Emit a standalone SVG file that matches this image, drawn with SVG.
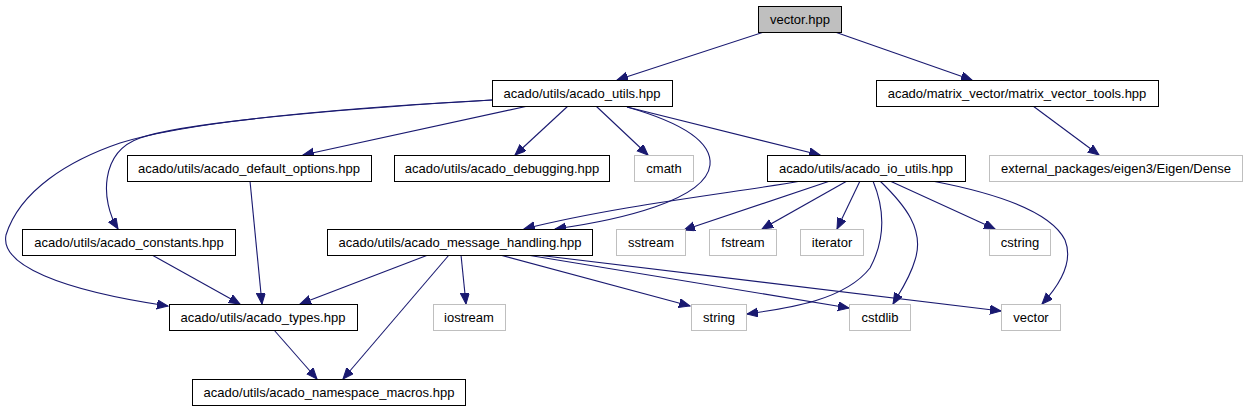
<svg xmlns="http://www.w3.org/2000/svg" width="1248" height="411" viewBox="0 0 1248 411">
<style>
.n rect{fill:#ffffff;stroke:#000000;stroke-width:1}
.g rect{fill:#ffffff;stroke:#bfbfbf;stroke-width:1}
.n text,.g text{font-family:"Liberation Sans",Arial,sans-serif;font-size:13px;fill:#000000;text-anchor:middle}
#edges path{fill:none;stroke:#191970;stroke-width:1.1;marker-end:url(#ah)}
</style>
<defs>
<marker id="ah" markerUnits="userSpaceOnUse" markerWidth="12" markerHeight="10" refX="11" refY="4.5" orient="auto">
<path d="M0,0 L11,4.5 L0,9 z" fill="#191970" stroke="#191970" stroke-width="1"/>
</marker>
</defs>
<rect width="1248" height="411" fill="#ffffff"/>
<g id="edges">
<path d="M764,32 L617,80"/>
<path d="M835,32 L972,80"/>
<path d="M1033,106 L1099,155"/>
<path d="M568,106 L515,155"/>
<path d="M596,106 L648,155"/>
<path d="M627,107 L820,155"/>
<path d="M627,107 C690,125 712,145 710,165 C706,200 620,220 555,229"/>
<path d="M801,181 C740,192 620,205 524,229"/>
<path d="M528,106 L303,155"/>
<path d="M492,100 C390,106 190,120 140,138 C100,152 100,200 118,229"/>
<path d="M492,100 C380,106 200,118 120,143 C70,160 20,190 6,235 C0,265 60,290 168,306"/>
<path d="M250,181 L262,304"/>
<path d="M152,255 L240,304"/>
<path d="M428,255 L300,304"/>
<path d="M449,255 L343,379"/>
<path d="M461,255 L466,304"/>
<path d="M500,255 L690,306"/>
<path d="M527,255 L849,308"/>
<path d="M537,255 L1001,311"/>
<path d="M830,181 L684,230"/>
<path d="M847,181 L762,229"/>
<path d="M860,181 L837,229"/>
<path d="M873,181 C885,210 885,240 870,268 C845,300 790,308 747,314"/>
<path d="M880,181 C905,205 925,230 915,260 C910,278 900,292 893,304"/>
<path d="M890,181 L995,229"/>
<path d="M932,181 C990,192 1050,210 1065,240 C1075,265 1055,290 1042,304"/>
<path d="M274,330 L317,379"/>
</g>
<g id="vector_hpp" class="n"><rect x="758.5" y="6.5" width="83" height="26" style="fill:#bfbfbf"/><text x="800" y="23.5">vector.hpp</text></g>
<g id="acado_utils" class="n"><rect x="492.5" y="80.5" width="180" height="26"/><text x="582" y="97.5">acado/utils/acado_utils.hpp</text></g>
<g id="matrix_vector_tools" class="n"><rect x="876.5" y="80.5" width="282" height="26"/><text x="1017" y="97.5">acado/matrix_vector/matrix_vector_tools.hpp</text></g>
<g id="default_options" class="n"><rect x="127.5" y="155.5" width="244" height="26"/><text x="249" y="172.5">acado/utils/acado_default_options.hpp</text></g>
<g id="debugging" class="n"><rect x="394.5" y="155.5" width="215" height="26"/><text x="502" y="172.5">acado/utils/acado_debugging.hpp</text></g>
<g id="cmath" class="g"><rect x="634.5" y="155.5" width="59" height="26"/><text x="664" y="172.5">cmath</text></g>
<g id="io_utils" class="n"><rect x="767.5" y="155.5" width="198" height="26"/><text x="866" y="172.5">acado/utils/acado_io_utils.hpp</text></g>
<g id="eigen_dense" class="g"><rect x="989.5" y="155.5" width="253" height="26"/><text x="1116" y="172.5">external_packages/eigen3/Eigen/Dense</text></g>
<g id="constants" class="n"><rect x="22.5" y="229.5" width="213" height="26"/><text x="129" y="246.5">acado/utils/acado_constants.hpp</text></g>
<g id="message_handling" class="n"><rect x="327.5" y="229.5" width="265" height="26"/><text x="460" y="246.5">acado/utils/acado_message_handling.hpp</text></g>
<g id="sstream" class="g"><rect x="616.5" y="229.5" width="69" height="26"/><text x="651" y="246.5">sstream</text></g>
<g id="fstream" class="g"><rect x="709.5" y="229.5" width="67" height="26"/><text x="743" y="246.5">fstream</text></g>
<g id="iterator" class="g"><rect x="800.5" y="229.5" width="63" height="26"/><text x="832" y="246.5">iterator</text></g>
<g id="cstring" class="g"><rect x="989.5" y="229.5" width="61" height="26"/><text x="1020" y="246.5">cstring</text></g>
<g id="acado_types" class="n"><rect x="169.5" y="304.5" width="188" height="26"/><text x="263" y="321.5">acado/utils/acado_types.hpp</text></g>
<g id="iostream" class="g"><rect x="433.5" y="304.5" width="72" height="26"/><text x="469" y="321.5">iostream</text></g>
<g id="string" class="g"><rect x="691.5" y="304.5" width="55" height="26"/><text x="719" y="321.5">string</text></g>
<g id="cstdlib" class="g"><rect x="849.5" y="304.5" width="61" height="26"/><text x="880" y="321.5">cstdlib</text></g>
<g id="vector_std" class="g"><rect x="1001.5" y="304.5" width="59" height="26"/><text x="1031" y="321.5">vector</text></g>
<g id="namespace_macros" class="n"><rect x="192.5" y="379.5" width="273" height="26"/><text x="329" y="396.5">acado/utils/acado_namespace_macros.hpp</text></g>
</svg>
